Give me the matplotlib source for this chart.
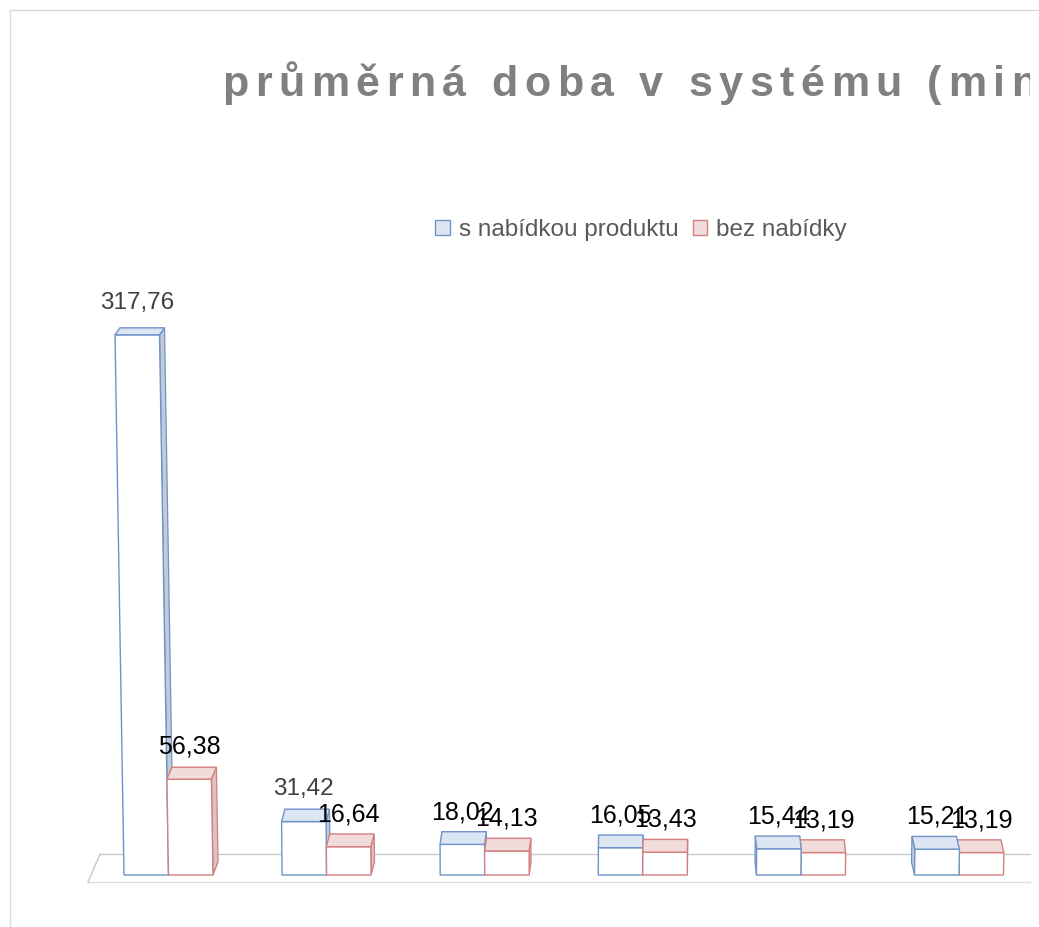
import matplotlib
matplotlib.use("Agg")
import matplotlib.pyplot as plt
from matplotlib.patches import Polygon, Patch
from matplotlib.lines import Line2D
from matplotlib.transforms import Bbox
from matplotlib.font_manager import FontProperties

plt.rcParams["font.family"] = ["Liberation Sans", "DejaVu Sans"]

# data
title = "průměrná doba v systému (min)"
series_names = ["s nabídkou produktu", "bez nabídky"]
s_nabidkou = [317.76, 31.42, 18.02, 16.05, 15.44, 15.21]
bez_nabidky = [56.38, 16.64, 14.13, 13.43, 13.19, 13.19]

# style
W, H = 1039, 927
PX, PY = 158.1, 1.70           # pixels per x unit / per y unit
BAR_W = 0.2815
BLUE_EDGE, BLUE_TOP, BLUE_SIDE = "#6f93c9", "#dce6f2", "#c3cbd7"
RED_EDGE, RED_TOP, RED_SIDE = "#d27f7d", "#f2dcdb", "#dcc3c3"
blue_label_colors = ["#404040", "#404040", "black", "black", "black", "black"]

fig = plt.figure(figsize=(W / 100, H / 100), dpi=100)
ax = fig.add_axes([(168.5 - 0.5 * PX) / W, 52 / H, 6 * PX / W, 400 * PY / H])
ax.set_xlim(-0.5, 5.5)
ax.set_ylim(0, 400)
ax.axis("off")

# floor
fl = dict(color="#c8c8c8", lw=1.0, zorder=0, clip_on=False)
ax.add_line(Line2D([-0.433, 5.449], [12.35, 12.35], **fl))
ax.add_line(Line2D([-0.509, 5.449], [-4.1, -4.1], color="#dddddd", lw=1.0, zorder=0, clip_on=False))
ax.add_line(Line2D([-0.433, -0.509], [12.35, -4.1], **fl))


def draw_bar(x0, v, i, edge, top_c, side_c, z):
    dx = (5 - 1.6 * i) / PX
    dy = (13 - 0.019 * v) / PY
    dy0 = 13 / PY
    sx = (-0.0283 * v * (1 - i / 2.5)) / PX
    x1 = x0 + BAR_W
    front = [(x0, 0), (x1, 0), (x1 + sx, v), (x0 + sx, v)]
    top = [(x0 + sx, v), (x1 + sx, v), (x1 + sx + dx, v + dy), (x0 + sx + dx, v + dy)]
    if dx > 0:
        side = [(x1, 0), (x1 + sx, v), (x1 + sx + dx, v + dy), (x1 + dx, dy0)]
    else:
        side = [(x0, 0), (x0 + sx, v), (x0 + sx + dx, v + dy), (x0 + dx, dy0)]
    ax.add_patch(Polygon(side, closed=True, facecolor=side_c, edgecolor=edge, lw=0.9, zorder=z, clip_on=False))
    ax.add_patch(Polygon(front, closed=True, facecolor="white", edgecolor=edge, lw=1.0, zorder=z, clip_on=False))
    ax.add_patch(Polygon(top, closed=True, facecolor=top_c, edgecolor=edge, lw=1.0, zorder=z, clip_on=False))
    return x0 + BAR_W / 2 + sx


def fmt(v):
    return f"{v:.2f}".replace(".", ",")


for i, (b, r) in enumerate(zip(s_nabidkou, bez_nabidky)):
    right_look = (5 - 1.6 * i) > 0
    zb, zr = (2, 3) if right_look else (3, 2)
    cb = draw_bar(i - BAR_W, b, i, BLUE_EDGE, BLUE_TOP, BLUE_SIDE, zb)
    cr = draw_bar(i, r, i, RED_EDGE, RED_TOP, RED_SIDE, zr)
    lb_col = blue_label_colors[i]
    ax.text(cb, b + 19, fmt(b), ha="center", va="center", color=lb_col,
            fontsize=17.5 if lb_col != "black" else 18, zorder=10, clip_on=False)
    ax.text(cr, r + 19, fmt(r), ha="center", va="center", color="black",
            fontsize=18, zorder=10, clip_on=False)

# legend
handles = [Patch(facecolor=BLUE_TOP, edgecolor=BLUE_EDGE, lw=1.0),
           Patch(facecolor=RED_TOP, edgecolor=RED_EDGE, lw=1.0)]
fig.legend(handles, series_names, loc="center", bbox_to_anchor=(641 / W, 1 - 230 / H),
           ncol=2, frameon=False, fontsize=17.5, handlelength=0.6, handleheight=0.6,
           handletextpad=0.35, columnspacing=0.6, labelcolor="#595959")

# title: letter-spaced, clipped at the right edge like the original
renderer = fig.canvas.get_renderer()
fp = FontProperties(family=["Liberation Sans", "DejaVu Sans"], weight="bold", size=31)
base_w = renderer.get_text_width_height_descent("l", fp, ismath=False)[0]
spacing = 6.6
clip = Bbox([[10, 0], [1030, H]])
for k, ch in enumerate(title):
    if ch == " ":
        continue
    adv = renderer.get_text_width_height_descent(title[:k] + "l", fp, ismath=False)[0] - base_w
    x = 222 + adv + k * spacing
    t = fig.text(x / W, 1 - 96 / H, ch, fontproperties=fp, color="#808080",
                 ha="left", va="baseline")
    t.set_clip_box(clip)
    t.set_clip_on(True)

# chart border
fig.add_artist(Line2D([10 / W, 10 / W], [0, 1 - 10 / H], transform=fig.transFigure, color="#d9d9d9", lw=1))
fig.add_artist(Line2D([10 / W, 1], [1 - 10 / H, 1 - 10 / H], transform=fig.transFigure, color="#d9d9d9", lw=1))

fig.savefig("out.png", dpi=100)
plt.close(fig)
